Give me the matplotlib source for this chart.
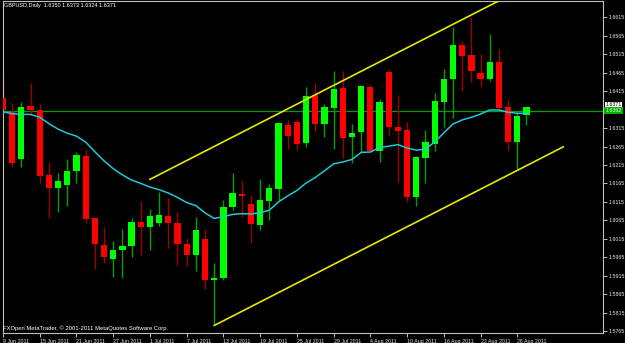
import numpy as np
import matplotlib.pyplot as plt

# GBPUSD 日线数据 (2011-06-09 起，每根K线一个交易日)
opens = [1.6397, 1.6359, 1.6230, 1.6375, 1.6364, 1.6188, 1.6153, 1.6160, 1.6199, 1.6240,
         1.6070, 1.5998, 1.5959, 1.5985, 1.5996, 1.6060, 1.6046, 1.6058, 1.6077, 1.6059,
         1.6001, 1.5971, 1.6014, 1.5903, 1.5908, 1.6102, 1.6136, 1.6108, 1.6052, 1.6118,
         1.6149, 1.6323, 1.6332, 1.6274, 1.6404, 1.6325, 1.6370, 1.6424, 1.6290, 1.6305,
         1.6427, 1.6254, 1.6466, 1.6317, 1.6310, 1.6127, 1.6235, 1.6272, 1.6386, 1.6447,
         1.6540, 1.6513, 1.6464, 1.6448, 1.6495, 1.6371, 1.6276, 1.6350]
highs = [1.6464, 1.6382, 1.6386, 1.6438, 1.6379, 1.6222, 1.6192, 1.6231, 1.6251, 1.6257,
         1.6071, 1.6046, 1.6009, 1.6041, 1.6072, 1.6117, 1.6095, 1.6141, 1.6126, 1.6088,
         1.6016, 1.6075, 1.6041, 1.5948, 1.6120, 1.6192, 1.6174, 1.6134, 1.6176, 1.6163,
         1.6329, 1.6337, 1.6340, 1.6427, 1.6436, 1.6380, 1.6470, 1.6470, 1.6326, 1.6430,
         1.6434, 1.6393, 1.6474, 1.6405, 1.6331, 1.6239, 1.6310, 1.6409, 1.6474, 1.6588,
         1.6551, 1.6617, 1.6516, 1.6570, 1.6529, 1.6391, 1.6359, 1.6373]
lows = [1.6358, 1.6210, 1.6210, 1.6350, 1.6165, 1.6072, 1.6088, 1.6105, 1.6165, 1.6057,
        1.5933, 1.5948, 1.5911, 1.5909, 1.5966, 1.5970, 1.5985, 1.6050, 1.5989, 1.5944,
        1.5942, 1.5928, 1.5878, 1.5781, 1.5903, 1.6093, 1.6075, 1.6003, 1.6039, 1.6066,
        1.6120, 1.6259, 1.6255, 1.6263, 1.6307, 1.6290, 1.6257, 1.6233, 1.6219, 1.6251,
        1.6251, 1.6224, 1.6293, 1.6170, 1.6115, 1.6105, 1.6167, 1.6254, 1.6319, 1.6341,
        1.6415, 1.6441, 1.6430, 1.6443, 1.6364, 1.6255, 1.6203, 1.6324]
closes = [1.6364, 1.6221, 1.6372, 1.6365, 1.6186, 1.6152, 1.6172, 1.6199, 1.6242, 1.6068,
          1.6000, 1.5966, 1.5985, 1.5995, 1.6060, 1.6046, 1.6077, 1.6079, 1.6057, 1.6001,
          1.5971, 1.6039, 1.5903, 1.5908, 1.6102, 1.6138, 1.6132, 1.6054, 1.6120, 1.6152,
          1.6328, 1.6293, 1.6272, 1.6402, 1.6327, 1.6371, 1.6421, 1.6287, 1.6302, 1.6429,
          1.6253, 1.6386, 1.6317, 1.6308, 1.6127, 1.6236, 1.6277, 1.6388, 1.6448, 1.6540,
          1.6511, 1.6470, 1.6448, 1.6493, 1.6369, 1.6276, 1.6347, 1.6371]
# 移动平均线（青色）
ma_values = [1.6359, 1.6354, 1.6352, 1.6352, 1.6344, 1.6327, 1.6312, 1.6301, 1.6293, 1.6277,
             1.6251, 1.6226, 1.6205, 1.6188, 1.6174, 1.6165, 1.6155, 1.6148, 1.6139, 1.6127,
             1.6113, 1.6105, 1.6085, 1.6070, 1.6075, 1.6081, 1.6083, 1.6082, 1.6086, 1.6092,
             1.6115, 1.6131, 1.6146, 1.6166, 1.6181, 1.6199, 1.6218, 1.6223, 1.6230, 1.6249,
             1.6250, 1.6262, 1.6266, 1.6270, 1.6261, 1.6255, 1.6258, 1.6277, 1.6302, 1.6326,
             1.6337, 1.6344, 1.6353, 1.6364, 1.6364, 1.6358, 1.6355, 1.6355]

date_labels = ['9 Jun 2011', '15 Jun 2011', '21 Jun 2011', '27 Jun 2011', '1 Jul 2011',
               '7 Jul 2011', '13 Jul 2011', '19 Jul 2011', '25 Jul 2011', '29 Jul 2011',
               '4 Aug 2011', '10 Aug 2011', '16 Aug 2011', '22 Aug 2011', '26 Aug 2011']
price_ticks = [1.6615, 1.6565, 1.6515, 1.6465, 1.6415, 1.6315, 1.6265, 1.6215, 1.6165,
               1.6115, 1.6065, 1.6015, 1.5965, 1.5915, 1.5865, 1.5815, 1.5765]

# 通道线 (K线序号, 价格)
lower_channel_x = [23, 61]
lower_channel_y = [1.5780, 1.6264]
upper_channel_x = [16, 61]
upper_channel_y = [1.6176, 1.6749]

hline_level = 1.6362
bid_price = 1.6371
header = 'GBPUSD,Daily  1.6350 1.6373 1.6324 1.6371'
footer = 'FXOpen MetaTrader, \u00a9 2001-2011 MetaQuotes Software Corp.'

plt.rcParams['font.family'] = ['Liberation Sans', 'DejaVu Sans']

W, H = 625, 343
fig = plt.figure(figsize=(W / 100, H / 100), dpi=100, facecolor='black')
ax = fig.add_axes([3 / W, 10 / H, 600 / W, 332 / H])
ax.set_facecolor('black')

x = np.arange(len(opens))
o = np.array(opens)
c = np.array(closes)
hi = np.array(highs)
lo = np.array(lows)
up = c >= o
dn = ~up

# 影线
ax.vlines(x[up], lo[up], hi[up], color='#00a000', lw=1, zorder=2)
ax.vlines(x[dn], lo[dn], hi[dn], color='#a00000', lw=1, zorder=2)
# 实体
ax.bar(x[up], c[up] - o[up], bottom=o[up], width=0.68, color='#00ff00', lw=0, zorder=3)
ax.bar(x[dn], o[dn] - c[dn], bottom=c[dn], width=0.68, color='#ff0000', lw=0, zorder=3)

ax.plot(x, ma_values, color='#20c8d8', lw=1.1, zorder=4)
ax.plot(lower_channel_x, lower_channel_y, color='#e8e800', lw=1.2, zorder=4)
ax.plot(upper_channel_x, upper_channel_y, color='#e8e800', lw=1.2, zorder=4)
ax.axhline(hline_level, color='#00a000', lw=0.9, zorder=1)

ax.set_xlim(0.11, 65.33)
ax.set_ylim(1.57596, 1.66593)

for s in ax.spines.values():
    s.set_color('#c0c0c0')
    s.set_linewidth(0.8)

ax.yaxis.tick_right()
ax.set_yticks(price_ticks)
ax.set_yticklabels([f'{p:.4f}' for p in price_ticks])
ax.set_xticks(range(0, len(opens), 4))
ax.set_xticklabels(date_labels)
for lab in ax.get_xticklabels():
    lab.set_horizontalalignment('left')
ax.tick_params(colors='#c0c0c0', labelcolor='#e8e8e8', labelsize=3.8, length=3, width=0.7, pad=1.2)

# 右侧价格标签：卖价标签（白）在上，水平线标签（绿）在下
ax.text(1.004, bid_price, f'{bid_price:.4f}', transform=ax.get_yaxis_transform(),
        fontsize=3.8, color='black', va='bottom', ha='left',
        bbox=dict(boxstyle='square,pad=0.15', fc='white', ec='none'))
ax.text(1.004, hline_level, f'{hline_level:.4f}', transform=ax.get_yaxis_transform(),
        fontsize=3.8, color='#e8ffe8', va='center', ha='left',
        bbox=dict(boxstyle='square,pad=0.2', fc='#00b000', ec='none'))

fig.text(4 / W, 1 - 6 / H, header, color='white', fontsize=4, va='center', ha='left')
fig.text(3 / W, 1 - 328 / H, footer, color='white', fontsize=4.2, va='center', ha='left')

fig.savefig('out.png', dpi=100, facecolor='black')
